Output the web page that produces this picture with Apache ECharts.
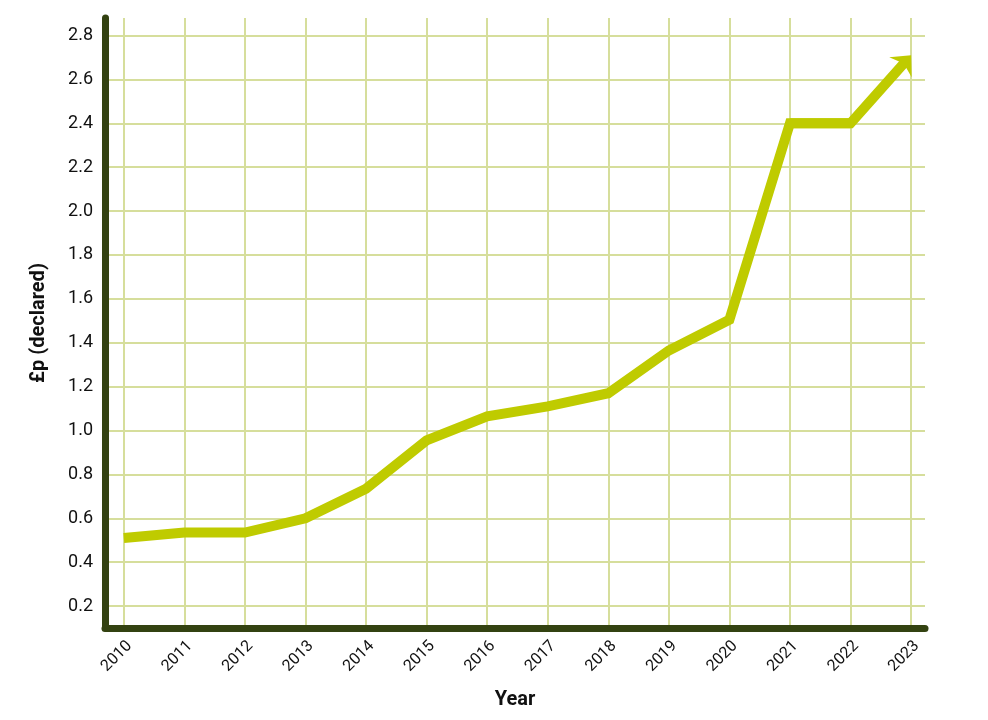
<!DOCTYPE html>
<html>
<head>
<meta charset="utf-8">
<script src="https://cdn.jsdelivr.net/npm/echarts@6/dist/echarts.min.js"></script>
<style>
html,body{margin:0;padding:0;background:#ffffff;}
#chart{width:988px;height:720px;}
</style>
</head>
<body>
<div id="chart"></div>
<script>
// ---- data ----
const years = [2010, 2011, 2012, 2013, 2014, 2015, 2016, 2017, 2018, 2019, 2020, 2021, 2022, 2023];
const values = [0.51, 0.535, 0.535, 0.6, 0.735, 0.955, 1.065, 1.11, 1.17, 1.365, 1.505, 2.4, 2.4, 2.71];
const yTicks = [0.2, 0.4, 0.6, 0.8, 1.0, 1.2, 1.4, 1.6, 1.8, 2.0, 2.2, 2.4, 2.6, 2.8];
const xTitle = 'Year';
const yTitle = '£p (declared)';

// ---- styles ----
const LINE = '#bfcb00';
const AXIS = '#334211';
const GRID = '#d6de9c';
const FONT = 'Roboto, "Noto Sans", sans-serif';

const n = years.length;
const lineData = years.slice(0, n - 1).map((y, i) => [y, values[i]]);
const arrowData = [[years[n - 3], values[n - 3], years[n - 2], values[n - 2], years[n - 1], values[n - 1]]];

const chart = echarts.init(document.getElementById('chart'), null, {renderer: 'canvas'});

chart.setOption({
  animation: false,
  backgroundColor: '#ffffff',
  grid: {left: 105, top: 18, width: 820, height: 610, containLabel: false},
  xAxis: {
    type: 'value',
    min: 2009.69,
    max: 2023.23,
    name: xTitle,
    nameLocation: 'middle',
    nameGap: 62,
    nameTextStyle: {fontFamily: FONT, fontSize: 20, fontWeight: 'bold', color: '#111'},
    axisLine: {show: true, onZero: false, lineStyle: {color: AXIS, width: 7, cap: 'round'}},
    axisTick: {show: false, customValues: years},
    axisLabel: {
      customValues: years,
      rotate: 45,
      align: 'right',
      verticalAlign: 'top',
      margin: 10,
      fontFamily: FONT,
      fontSize: 16,
      color: '#111',
      formatter: v => String(Math.round(v))
    },
    splitLine: {show: true, lineStyle: {color: GRID, width: 2}}
  },
  yAxis: {
    type: 'value',
    min: 0.1,
    max: 2.88,
    name: yTitle,
    nameLocation: 'middle',
    nameGap: 56,
    nameTextStyle: {fontFamily: FONT, fontSize: 20, fontWeight: 'bold', color: '#111'},
    axisLine: {show: true, onZero: false, lineStyle: {color: AXIS, width: 7, cap: 'round'}},
    axisTick: {show: false, customValues: yTicks},
    axisLabel: {
      customValues: yTicks,
      margin: 12,
      fontFamily: FONT,
      fontSize: 18,
      color: '#111',
      formatter: v => v.toFixed(1)
    },
    splitLine: {show: true, lineStyle: {color: GRID, width: 2}}
  },
  series: [
    {
      type: 'line',
      data: lineData,
      symbol: 'none',
      z: 3,
      lineStyle: {color: LINE, width: 10, join: 'miter'}
    },
    {
      type: 'custom',
      data: arrowData,
      z: 3,
      encode: {x: [0, 2, 4], y: [1, 3, 5]},
      renderItem: function (params, api) {
        const pts = [0, 1, 2].map(k => api.coord([api.value(2 * k), api.value(2 * k + 1)]));
        const a = pts[1], b = pts[2];
        const dx = b[0] - a[0], dy = b[1] - a[1];
        const len = Math.hypot(dx, dy);
        const ux = dx / len, uy = dy / len;
        const px = -uy, py = ux;
        const L = 16, W = 15, notch = 5, lineBack = 8;
        const back = [b[0] - ux * L, b[1] - uy * L];
        const inner = [b[0] - ux * (L - notch), b[1] - uy * (L - notch)];
        const lineEnd = [b[0] - ux * lineBack, b[1] - uy * lineBack];
        return {
          type: 'group',
          children: [
            {
              type: 'polyline',
              shape: {points: [pts[0], pts[1], lineEnd]},
              style: {stroke: LINE, lineWidth: 10, fill: null, lineJoin: 'miter'}
            },
            {
              type: 'polygon',
              shape: {points: [b, [back[0] + px * W, back[1] + py * W], inner, [back[0] - px * W, back[1] - py * W]]},
              style: {fill: LINE}
            }
          ]
        };
      }
    }
  ]
});
</script>
</body>
</html>
